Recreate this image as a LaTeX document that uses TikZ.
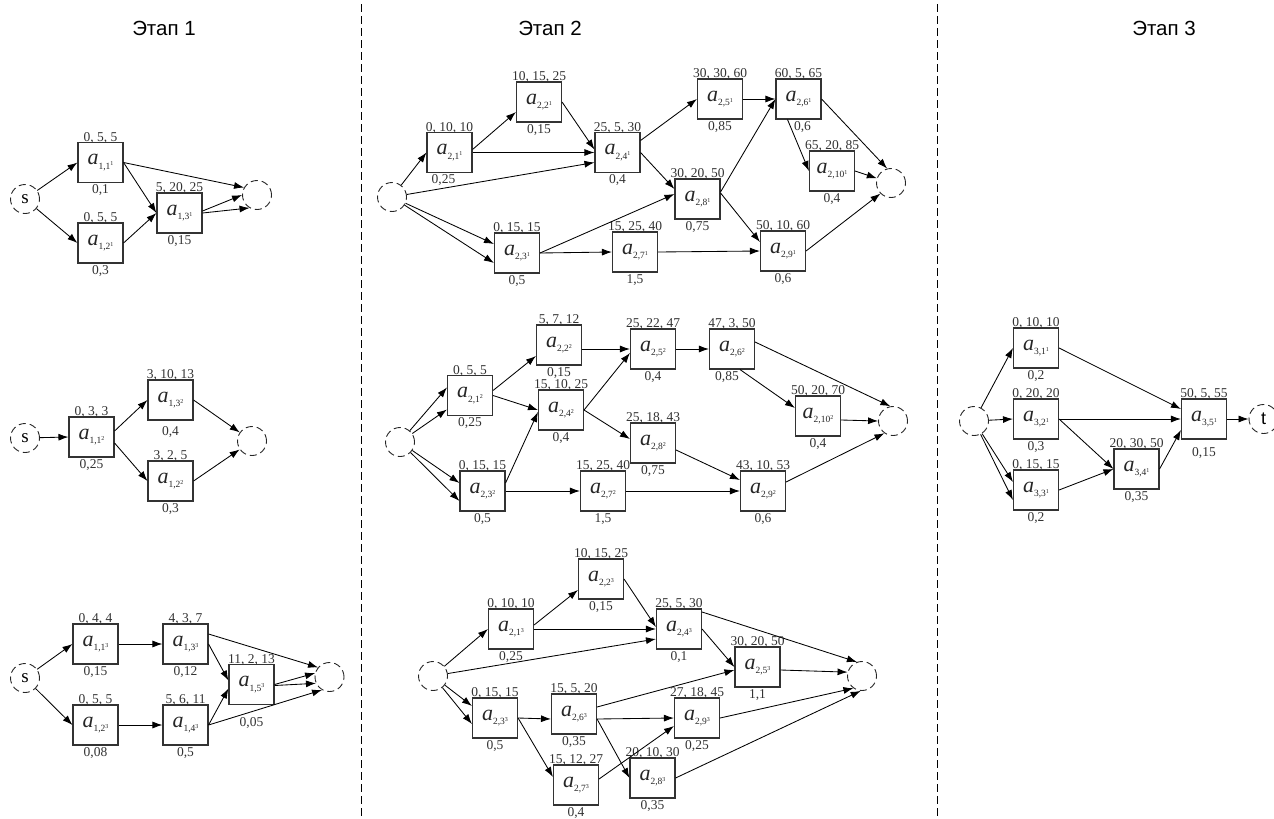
\documentclass[tikz,border=0pt]{standalone}
\usepackage{fontspec}
\setmainfont{Liberation Serif}
\newfontfamily\hdrfont{Liberation Sans}
\usetikzlibrary{arrows.meta,calc}
\newcommand\lblfont{\fontsize{13.5}{14}\selectfont}
\newcommand\actlab[2]{{\fontsize{22}{22}\selectfont\itshape a}\raisebox{-4.5pt}{\fontsize{9.5}{9.5}\selectfont #1\raisebox{3.5pt}{\fontsize{6}{6}\selectfont #2}}}
\newcommand\actnode[7][]{\node[abox,label={[tl]above:{#6}},label={[bl,#1]below:{#7}}] (#2) at (#3) {\actlab{#4}{#5}};}
\begin{document}
\begin{tikzpicture}[x=1pt,y=-1pt,
  abox/.style={draw=black!80, line width=1.1pt, minimum width=45pt, minimum height=40pt, inner sep=0pt, text=black!85},
  ev/.style={circle, draw=black!85, line width=0.9pt, dash pattern=on 7pt off 4pt, minimum size=29pt, inner sep=0pt, font=\fontsize{19}{19}\selectfont},
  arr/.style={draw=black, line width=0.85pt, -{Latex[length=10pt,width=7pt]}},
  tl/.style={font=\lblfont, text=black!80, inner sep=0pt, yshift=-1.5pt},
  bl/.style={font=\lblfont, text=black!80, inner sep=1.5pt},
  sep/.style={line width=0.9pt, dash pattern=on 8pt off 4pt},
  hdr/.style={font=\hdrfont\fontsize{20.5}{24}\selectfont}]
\useasboundingbox (0,0) rectangle (1274,819);

% separators and headers
\draw[sep] (361,4) -- (361,819);
\draw[sep] (937,4) -- (937,819);
\node[hdr] (h1) at (164,28) {Этап 1};
\node[hdr] (h2) at (550,28) {Этап 2};
\node[hdr] (h3) at (1164,28) {Этап 3};

% ---------- Stage 1, graph 1
\node[ev] (A0) at (25,199) {s};
\node[ev] (AZ) at (257,195) {};
\actnode{A11}{100.5,162.5}{1,1}{1}{0, 5, 5}{0,1}
\actnode{A12}{100.5,243}{1,2}{1}{0, 5, 5}{0,3}
\actnode{A13}{179.5,213}{1,3}{1}{5, 20, 25}{0,15}
\draw[arr] (A0) -- (A11.west);
\draw[arr] (A0) -- (A12.west);
\draw[arr] (A11.east) -- (A13.west);
\draw[arr] (A12.east) -- (A13.west);
\draw[arr] (A11.east) -- (AZ.150);
\draw[arr] ($(A13.east)+(0,-2)$) -- (AZ.west);
\draw[arr] (A13.east) -- (AZ.240);

% ---------- Stage 1, graph 2
\node[ev] (B0) at (25,438) {s};
\node[ev] (BZ) at (252,441) {};
\actnode{B11}{91.5,437}{1,1}{2}{0, 3, 3}{0,25}
\actnode[yshift=-4pt]{B13}{170.5,400}{1,3}{2}{3, 10, 13}{0,4}
\actnode{B12}{170.5,481}{1,2}{2}{3, 2, 5}{0,3}
\draw[arr] (B0) -- (B11.west);
\draw[arr] ($(B11.east)+(0,-6)$) -- (B13.west);
\draw[arr] ($(B11.east)+(0,6)$) -- (B12.west);
\draw[arr] (B13.east) -- (BZ);
\draw[arr] (B12.east) -- (BZ);

% ---------- Stage 1, graph 3
\node[ev] (C0) at (25,678) {s};
\node[ev] (CZ) at (329.5,677) {};
\actnode{C11}{95.5,644}{1,1}{3}{0, 4, 4}{0,15}
\actnode{C12}{95.5,725}{1,2}{3}{0, 5, 5}{0,08}
\actnode{C13}{185.5,644}{1,3}{3}{4, 3, 7}{0,12}
\actnode{C14}{185.5,725}{1,4}{3}{5, 6, 11}{0,5}
\actnode[yshift=-11pt]{C15}{251.5,684.5}{1,5}{3}{11, 2, 13}{0,05}
\draw[arr] (C0) -- (C11.west);
\draw[arr] (C0) -- (C12.west);
\draw[arr] (C11.east) -- (C13.west);
\draw[arr] (C12.east) -- (C14.west);
\draw[arr] (C13.east) -- ($(C15.west)+(0,-4)$);
\draw[arr] (C14.east) -- ($(C15.west)+(0,4)$);
\draw[arr] ($(C13.east)+(0,-10)$) -- (CZ.140);
\draw[arr] (C15.east) -- (CZ.165);
\draw[arr] ($(C15.east)+(0,1)$) -- (CZ.205);
\draw[arr] (C14.east) -- (CZ.240);

% ---------- Stage 2, graph 1
\node[ev] (D0) at (392,197) {};
\node[ev] (DZ) at (891,183) {};
\actnode[xshift=-6pt]{D21}{449.5,152.5}{2,1}{1}{0, 10, 10}{0,25}
\actnode{D22}{539,102}{2,2}{1}{10, 15, 25}{0,15}
\actnode{D24}{617.5,152.5}{2,4}{1}{25, 5, 30}{0,4}
\actnode{D23}{517,253}{2,3}{1}{0, 15, 15}{0,5}
\actnode{D27}{635,252}{2,7}{1}{15, 25, 40}{1,5}
\actnode{D25}{720,99}{2,5}{1}{30, 30, 60}{0,85}
\actnode[xshift=4pt]{D26}{798.5,99}{2,6}{1}{60, 5, 65}{0,6}
\actnode{D210}{832,171}{2,10}{1}{65, 20, 85}{0,4}
\actnode{D28}{697.5,199}{2,8}{1}{30, 20, 50}{0,75}
\actnode{D29}{783,251}{2,9}{1}{50, 10, 60}{0,6}
\draw[arr] (D0) -- (D21.west);
\draw[arr] (D0) -- ($(D24.west)+(0,10)$);
\draw[arr] (D0) -- ($(D23.west)+(0,-9)$);
\draw[arr] (D0) -- ($(D23.west)+(0,10)$);
\draw[arr] ($(D21.east)+(0,-3)$) -- ($(D22.west)+(0,10)$);
\draw[arr] (D21.east) -- (D24.west);
\draw[arr] (D22.east) -- ($(D24.west)+(0,-3)$);
\draw[arr] ($(D24.east)+(0,-12)$) -- (D25.west);
\draw[arr] (D24.east) -- ($(D28.west)+(0,-10)$);
\draw[arr] (D23.east) -- ($(D28.west)+(0,-5)$);
\draw[arr] (D23.east) -- (D27.west);
\draw[arr] (D27.east) -- (D29.west);
\draw[arr] (D25.east) -- (D26.west);
\draw[arr] ($(D28.east)+(0,-7)$) -- (D26.west);
\draw[arr] ($(D28.east)+(0,-6)$) -- ($(D29.west)+(0,-9)$);
\draw[arr] ($(D26.south)+(-11,0)$) -- (D210.west);
\draw[arr] (D26.east) -- (DZ.105);
\draw[arr] (D210.east) -- (DZ);
\draw[arr] (D29.east) -- (DZ.225);

% ---------- Stage 2, graph 2
\node[ev] (E0) at (400,442) {};
\node[ev] (EZ) at (893,421) {};
\actnode{E21}{470,395.5}{2,1}{2}{0, 5, 5}{0,25}
\actnode{E22}{559,345}{2,2}{2}{5, 7, 12}{0,15}
\actnode{E24}{561,410}{2,4}{2}{15, 10, 25}{0,4}
\actnode{E25}{653,349}{2,5}{2}{25, 22, 47}{0,4}
\actnode{E28}{653,443}{2,8}{2}{25, 18, 43}{0,75}
\actnode{E23}{482.5,491}{2,3}{2}{0, 15, 15}{0,5}
\actnode{E27}{603,491}{2,7}{2}{15, 25, 40}{1,5}
\actnode{E29}{763,491}{2,9}{2}{43, 10, 53}{0,6}
\actnode[xshift=-5pt]{E26}{732,349}{2,6}{2}{47, 3, 50}{0,85}
\actnode{E210}{818,416}{2,10}{2}{50, 20, 70}{0,4}
\draw[arr] (E0) -- ($(E21.west)+(0,-8)$);
\draw[arr] (E0) -- ($(E21.west)+(0,14)$);
\draw[arr] (E0) -- ($(E23.west)+(0,-8)$);
\draw[arr] (E0) -- ($(E23.west)+(0,10)$);
\draw[arr] ($(E21.east)+(0,-5)$) -- ($(E22.west)+(0,11)$);
\draw[arr] (E21.east) -- (E24.west);
\draw[arr] ($(E23.east)+(0,-8)$) -- ($(E24.west)+(0,2)$);
\draw[arr] ($(E22.east)+(0,4)$) -- (E25.west);
\draw[arr] (E24.east) -- ($(E25.west)+(0,4)$);
\draw[arr] (E24.east) -- ($(E28.west)+(0,-4)$);
\draw[arr] (E23.east) -- (E27.west);
\draw[arr] (E27.east) -- (E29.west);
\draw[arr] ($(E28.east)+(0,7)$) -- ($(E29.west)+(0,-11)$);
\draw[arr] (E25.east) -- (E26.west);
\draw[arr] ($(E26.south)+(8,0)$) -- ($(E210.west)+(0,-8)$);
\draw[arr] ($(E26.east)+(0,-7)$) -- (EZ.100);
\draw[arr] ($(E210.east)+(0,4)$) -- (EZ.west);
\draw[arr] ($(E29.east)+(0,-9)$) -- (EZ.235);

% ---------- Stage 2, graph 3
\node[ev] (F0) at (433,676) {};
\node[ev] (FZ) at (862,676) {};
\actnode{F21}{511,629}{2,1}{3}{0, 10, 10}{0,25}
\actnode{F22}{601,579}{2,2}{3}{10, 15, 25}{0,15}
\actnode{F24}{679,629}{2,4}{3}{25, 5, 30}{0,1}
\actnode{F25}{757.5,667}{2,5}{3}{30, 20, 50}{1,1}
\actnode{F23}{495,718}{2,3}{3}{0, 15, 15}{0,5}
\actnode{F26}{574,714}{2,6}{3}{15, 5, 20}{0,35}
\actnode{F27}{576,785}{2,7}{3}{15, 12, 27}{0,4}
\actnode{F28}{652.5,778}{2,8}{3}{20, 10, 30}{0,35}
\actnode{F29}{697,718}{2,9}{3}{27, 18, 45}{0,25}
\draw[arr] (F0) -- (F21.west);
\draw[arr] (F0) -- ($(F24.west)+(0,10)$);
\draw[arr] (F0) -- ($(F23.west)+(0,-12)$);
\draw[arr] (F0) -- ($(F23.west)+(0,6)$);
\draw[arr] ($(F21.east)+(0,-4)$) -- ($(F22.west)+(0,11)$);
\draw[arr] (F21.east) -- (F24.west);
\draw[arr] (F22.east) -- ($(F24.west)+(0,-2)$);
\draw[arr] ($(F24.east)+(0,-17)$) -- (FZ.110);
\draw[arr] (F24.east) -- (F25.west);
\draw[arr] ($(F26.east)+(0,-7)$) -- ($(F25.west)+(0,3)$);
\draw[arr] ($(F25.east)+(0,3)$) -- (FZ.165);
\draw[arr] (F23.east) -- ($(F26.west)+(0,5)$);
\draw[arr] (F23.east) -- ($(F27.west)+(0,-8)$);
\draw[arr] ($(F26.east)+(0,5)$) -- (F29.west);
\draw[arr] ($(F26.east)+(0,5)$) -- (F28.west);
\draw[arr] ($(F27.east)+(0,-6)$) -- ($(F29.west)+(0,8)$);
\draw[arr] (F29.east) -- (FZ.235);
\draw[arr] (F28.east) -- (FZ.265);

% ---------- Stage 3
\node[ev] (G0) at (974,421) {};
\node[ev, font=\hdrfont\fontsize{18}{18}\selectfont] (GT) at (1263.5,419) {t};
\actnode{G31}{1036,348}{3,1}{1}{0, 10, 10}{0,2}
\actnode{G32}{1036,419}{3,2}{1}{0, 20, 20}{0,3}
\actnode{G33}{1036,490}{3,3}{1}{0, 15, 15}{0,2}
\actnode{G34}{1136.5,469}{3,4}{1}{20, 30, 50}{0,35}
\actnode[yshift=-6pt]{G35}{1204,419}{3,5}{1}{50, 5, 55}{0,15}
\draw[arr] (G0) -- (G31.west);
\draw[arr] (G0) -- (G32.west);
\draw[arr] (G0) -- ($(G33.west)+(0,-8)$);
\draw[arr] (G0) -- ($(G33.west)+(0,10)$);
\draw[arr] (G31.east) -- ($(G35.west)+(0,-10)$);
\draw[arr] (G32.east) -- (G35.west);
\draw[arr] (G32.east) -- (G34.west);
\draw[arr] (G33.east) -- (G34.west);
\draw[arr] (G34.east) -- ($(G35.west)+(0,11)$);
\draw[arr] (G35.east) -- (GT);
\end{tikzpicture}
\end{document}
